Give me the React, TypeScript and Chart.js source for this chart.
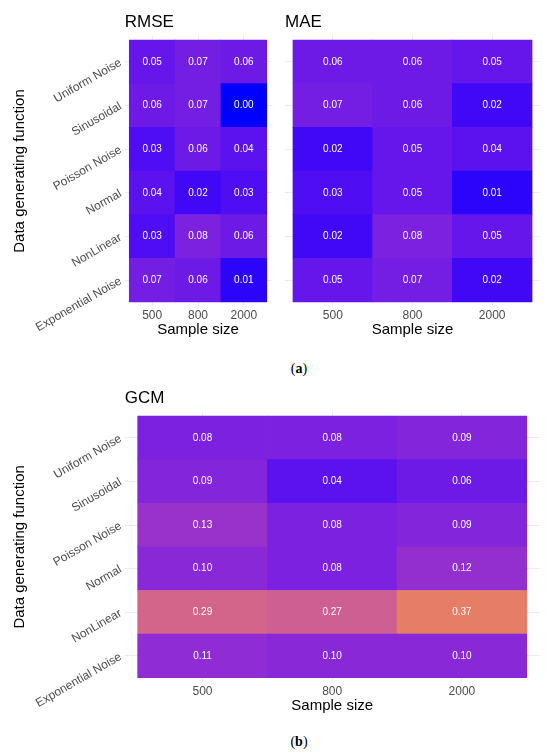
import React, { useEffect, useRef } from "react";
import { Chart, registerables } from "chart.js";

Chart.register(...registerables);

// ---------- data ----------
const SAMPLE_SIZES = ["500", "800", "2000"];
const FUNCTIONS = [
  "Uniform Noise",
  "Sinusoidal",
  "Poisson Noise",
  "Normal",
  "NonLinear",
  "Exponential Noise",
];
// rows follow FUNCTIONS (top to bottom), columns follow SAMPLE_SIZES
const RMSE_VALUES = [
  [0.05, 0.07, 0.06],
  [0.06, 0.07, 0.0],
  [0.03, 0.06, 0.04],
  [0.04, 0.02, 0.03],
  [0.03, 0.08, 0.06],
  [0.07, 0.06, 0.01],
];
const MAE_VALUES = [
  [0.06, 0.06, 0.05],
  [0.07, 0.06, 0.02],
  [0.02, 0.05, 0.04],
  [0.03, 0.05, 0.01],
  [0.02, 0.08, 0.05],
  [0.05, 0.07, 0.02],
];
const GCM_VALUES = [
  [0.08, 0.08, 0.09],
  [0.09, 0.04, 0.06],
  [0.13, 0.08, 0.09],
  [0.1, 0.08, 0.12],
  [0.29, 0.27, 0.37],
  [0.11, 0.1, 0.1],
];
const COLOR_LOW = "#0000FF";
const COLOR_HIGH = "#FFA500";
const COLOR_LIMITS = [0, 0.5];

// ---------- colour scale (CIELAB interpolation, like ggplot) ----------
function hexToRgb(h: string) {
  return [1, 3, 5].map((i) => parseInt(h.slice(i, i + 2), 16));
}
function toLin(c: number) {
  c /= 255;
  return c <= 0.04045 ? c / 12.92 : Math.pow((c + 0.055) / 1.055, 2.4);
}
function fromLin(c: number) {
  const v = c <= 0.0031308 ? 12.92 * c : 1.055 * Math.pow(c, 1 / 2.4) - 0.055;
  return Math.round(Math.max(0, Math.min(1, v)) * 255);
}
const XN = 0.95047, YN = 1, ZN = 1.08883;
function rgbToLab(rgb: number[]) {
  const [r, g, b] = rgb.map(toLin);
  const X = (0.4124 * r + 0.3576 * g + 0.1805 * b) / XN;
  const Y = (0.2126 * r + 0.7152 * g + 0.0722 * b) / YN;
  const Z = (0.0193 * r + 0.1192 * g + 0.9505 * b) / ZN;
  const f = (t: number) => (t > 0.008856 ? Math.cbrt(t) : 7.787 * t + 16 / 116);
  const fx = f(X), fy = f(Y), fz = f(Z);
  return [116 * fy - 16, 500 * (fx - fy), 200 * (fy - fz)];
}
function labToRgb(lab: number[]) {
  const [L, a, b] = lab;
  const fy = (L + 16) / 116;
  const fx = fy + a / 500;
  const fz = fy - b / 200;
  const inv = (t: number) => (t * t * t > 0.008856 ? t * t * t : (t - 16 / 116) / 7.787);
  const X = inv(fx) * XN, Y = inv(fy) * YN, Z = inv(fz) * ZN;
  const r = 3.2406 * X - 1.5372 * Y - 0.4986 * Z;
  const g = -0.9689 * X + 1.8758 * Y + 0.0415 * Z;
  const bb = 0.0557 * X - 0.204 * Y + 1.057 * Z;
  return [fromLin(r), fromLin(g), fromLin(bb)];
}
const LAB_LOW = rgbToLab(hexToRgb(COLOR_LOW));
const LAB_HIGH = rgbToLab(hexToRgb(COLOR_HIGH));
function colorFor(v: number) {
  const t = Math.max(0, Math.min(1, (v - COLOR_LIMITS[0]) / (COLOR_LIMITS[1] - COLOR_LIMITS[0])));
  const lab = LAB_LOW.map((l, i) => l + (LAB_HIGH[i] - l) * t);
  const [r, g, b] = labToRgb(lab);
  return `rgb(${r},${g},${b})`;
}

// ---------- styling ----------
const FONT = '"Liberation Sans", Arial, Helvetica, sans-serif';
const TICK_COLOR = "#4D4D4D";
const GRID_COLOR = "#EBEBEB";

const valueLabelPlugin = {
  id: "valueLabels",
  afterDatasetsDraw(chart: any) {
    const ctx = chart.ctx;
    const meta = chart.getDatasetMeta(0);
    const raw = chart.data.datasets[0].data;
    ctx.save();
    ctx.font = `10px ${FONT}`;
    ctx.fillStyle = "#FFFFFF";
    ctx.textAlign = "center";
    ctx.textBaseline = "middle";
    meta.data.forEach((el: any, i: number) => {
      const p = el.getCenterPoint();
      ctx.fillText(raw[i].v.toFixed(2), p.x, p.y);
    });
    ctx.restore();
  },
};

const panelTitlePlugin = {
  id: "panelTitle",
  afterDraw(chart: any, _args: any, opts: any) {
    if (!opts || !opts.text) return;
    const ctx = chart.ctx;
    ctx.save();
    ctx.font = `17px ${FONT}`;
    ctx.fillStyle = "#000000";
    ctx.textAlign = "left";
    ctx.textBaseline = "alphabetic";
    ctx.fillText(opts.text, chart.chartArea.left, chart.chartArea.top - 8.5);
    ctx.restore();
  },
};

type PanelProps = {
  title: string;
  values: number[][];
  showY: boolean;
  left: number;
  top: number;
  width: number;
  height: number;
  padding: { left: number; right: number; top: number; bottom: number };
  yAxisWidth: number;
  xAxisHeight: number;
};

function HeatmapPanel(p: PanelProps) {
  const ref = useRef<HTMLCanvasElement | null>(null);
  useEffect(() => {
    if (!ref.current) return;
    const points: any[] = [];
    const colors: string[] = [];
    p.values.forEach((row, r) =>
      row.forEach((v, c) => {
        points.push({ x: c + 0.5, y: [r, r + 1], v });
        colors.push(colorFor(v));
      })
    );
    const chart = new Chart(ref.current, {
      type: "bar",
      data: {
        datasets: [
          {
            data: points,
            backgroundColor: colors,
            borderWidth: 0,
            categoryPercentage: 1,
            barPercentage: 1,
          } as any,
        ],
      },
      options: {
        responsive: false,
        animation: false,
        events: [],
        layout: { padding: p.padding },
        plugins: {
          legend: { display: false },
          tooltip: { enabled: false },
          panelTitle: { text: p.title },
        } as any,
        scales: {
          x: {
            type: "linear",
            min: -0.1,
            max: SAMPLE_SIZES.length + 0.1,
            offset: false,
            afterBuildTicks: (s: any) => {
              s.ticks = SAMPLE_SIZES.map((_, i) => ({ value: i + 0.5 }));
            },
            afterFit: (s: any) => {
              s.height = p.xAxisHeight;
            },
            ticks: {
              autoSkip: false,
              maxRotation: 0,
              minRotation: 0,
              padding: 2,
              color: TICK_COLOR,
              font: { family: FONT, size: 12 },
              callback: (_v: any, i: number) => SAMPLE_SIZES[i],
            },
            grid: { color: GRID_COLOR, lineWidth: 1, drawTicks: false, offset: false },
            border: { display: false },
            title: {
              display: true,
              text: "Sample size",
              color: "#000000",
              font: { family: FONT, size: 15 },
              padding: 0,
            },
          } as any,
          y: {
            type: "linear",
            reverse: true,
            min: -0.1,
            max: FUNCTIONS.length + 0.1,
            offset: false,
            afterBuildTicks: (s: any) => {
              s.ticks = FUNCTIONS.map((_, i) => ({ value: i + 0.5 }));
            },
            afterFit: (s: any) => {
              s.width = p.yAxisWidth;
            },
            ticks: {
              display: p.showY,
              autoSkip: false,
              minRotation: 30,
              maxRotation: 30,
              padding: 4,
              color: TICK_COLOR,
              font: { family: FONT, size: 12 },
              callback: (_v: any, i: number) => FUNCTIONS[i],
            },
            grid: { color: GRID_COLOR, lineWidth: 1, drawTicks: false },
            border: { display: false },
            title: {
              display: p.showY,
              text: "Data generating function",
              color: "#000000",
              font: { family: FONT, size: 15 },
              padding: 0,
            },
          } as any,
        },
      },
      plugins: [valueLabelPlugin, panelTitlePlugin],
    } as any);
    return () => chart.destroy();
  }, []);
  return (
    <canvas
      ref={ref}
      width={p.width}
      height={p.height}
      style={{ position: "absolute", left: p.left, top: p.top, width: p.width, height: p.height }}
    />
  );
}

function SubLabel({ letter, top }: { letter: string; top: number }) {
  return (
    <div
      style={{
        position: "absolute",
        left: 269,
        top,
        width: 60,
        textAlign: "center",
        fontFamily: '"Liberation Serif", "DejaVu Serif", serif',
        fontSize: 14,
        lineHeight: "16px",
        color: "#000",
      }}
    >
      (<b>{letter}</b>)
    </div>
  );
}

export default function App() {
  return (
    <div
      style={{
        position: "absolute",
        left: 0,
        top: 0,
        width: 550,
        height: 755,
        background: "#FFFFFF",
        overflow: "hidden",
      }}
    >
      <HeatmapPanel
        title="RMSE"
        values={RMSE_VALUES}
        showY={true}
        left={0}
        top={0}
        width={275}
        height={339}
        padding={{ left: 11, right: 3.7, top: 35.6, bottom: 0 }}
        yAxisWidth={113.7}
        xAxisHeight={32.6}
      />
      <HeatmapPanel
        title="MAE"
        values={MAE_VALUES}
        showY={false}
        left={275}
        top={0}
        width={275}
        height={339}
        padding={{ left: 0, right: 10, top: 35.6, bottom: 0 }}
        yAxisWidth={10}
        xAxisHeight={32.6}
      />
      <SubLabel letter="a" top={361} />
      <HeatmapPanel
        title="GCM"
        values={GCM_VALUES}
        showY={true}
        left={0}
        top={370}
        width={550}
        height={345}
        padding={{ left: 11, right: 10.3, top: 41.6, bottom: 0.5 }}
        yAxisWidth={113.7}
        xAxisHeight={32.4}
      />
      <SubLabel letter="b" top={734} />
    </div>
  );
}
